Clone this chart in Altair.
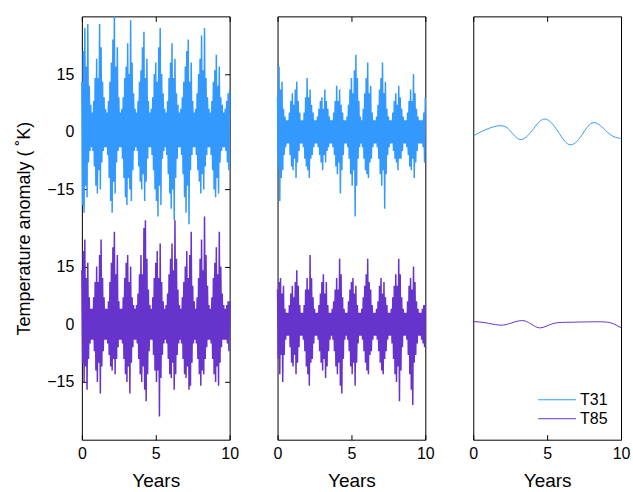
import altair as alt
import pandas as pd

# ---- time grid (years): envelope samples every 0.1 yr, troughs in between
T_HI = [round(i * 0.1, 2) for i in range(101)]
T_LO = [round(i * 0.1 + 0.05, 2) for i in range(100)]

SERIES = ["T31", "T85"]
COLORS = ["#3399ff", "#6633cc"]
OFFSET = {"T31": 50, "T85": 0}   # vertical display offset of the two curves

# ---- panel 1 (raw daily anomalies), upper / lower excursions
p1_t31_hi = [13, 21, 27, 17, 28, 12, 7, 5, 8, 14,
             19, 14, 28, 22, 13, 9, 6, 5, 8, 13,
             18, 24, 30, 17, 22, 9, 5, 6, 9, 14,
             17, 23, 15, 29, 18, 10, 6, 5, 8, 13,
             16, 22, 26, 14, 19, 8, 5, 6, 9, 15,
             18, 13, 22, 27, 15, 10, 6, 5, 8, 14,
             18, 23, 14, 19, 10, 7, 5, 6, 9, 13,
             17, 21, 24, 13, 18, 8, 5, 6, 10, 15,
             19, 25, 16, 27, 14, 9, 6, 5, 8, 13,
             16, 20, 12, 17, 9, 7, 5, 6, 8, 10,
             11]
p1_t31_lo = [-19, -21, -14, -17, -8, -5, -4, -5, -9, -14,
             -16, -10, -15, -8, -5, -4, -4, -6, -12, -18,
             -21, -13, -16, -8, -5, -4, -4, -7, -12, -17,
             -19, -12, -15, -18, -10, -5, -4, -5, -9, -13,
             -15, -11, -18, -13, -7, -4, -4, -6, -10, -15,
             -18, -22, -14, -19, -7, -5, -4, -6, -11, -16,
             -20, -15, -23, -12, -7, -4, -4, -6, -11, -17,
             -21, -14, -24, -10, -6, -4, -4, -6, -10, -13,
             -16, -11, -15, -9, -6, -4, -4, -6, -10, -15,
             -17, -12, -16, -8, -5, -4, -4, -5, -8, -10]
p1_t85_hi = [14, 19, 22, 12, 16, 7, 4, 4, 7, 11,
             15, 11, 18, 22, 12, 7, 4, 4, 6, 11,
             16, 20, 24, 13, 18, 6, 4, 4, 7, 12,
             16, 18, 11, 15, 7, 5, 4, 5, 8, 13,
             18, 13, 25, 27, 17, 9, 5, 4, 7, 12,
             16, 19, 12, 21, 11, 6, 4, 5, 8, 13,
             17, 21, 14, 27, 17, 9, 5, 4, 7, 11,
             15, 19, 12, 18, 24, 10, 6, 4, 7, 12,
             17, 22, 14, 28, 18, 10, 5, 4, 7, 12,
             16, 20, 13, 24, 15, 8, 5, 4, 5, 6,
             6]
p1_t85_lo = [-10, -15, -11, -17, -9, -5, -4, -4, -7, -12,
             -15, -10, -18, -11, -7, -4, -4, -5, -8, -11,
             -12, -9, -13, -9, -6, -4, -4, -5, -9, -13,
             -15, -11, -18, -10, -6, -4, -4, -5, -9, -13,
             -15, -11, -17, -20, -13, -7, -4, -4, -8, -12,
             -15, -12, -24, -14, -8, -5, -4, -5, -9, -13,
             -14, -10, -17, -13, -8, -5, -4, -5, -9, -13,
             -14, -11, -17, -16, -10, -5, -4, -5, -9, -13,
             -16, -12, -13, -9, -6, -4, -4, -5, -9, -13,
             -15, -11, -16, -10, -6, -4, -4, -4, -5, -7]

# ---- panel 2 (filtered anomalies)
p2_t31_hi = [9, 17, 11, 13, 6, 4, 3, 3, 5, 8,
             10, 7, 11, 13, 8, 5, 3, 3, 5, 9,
             14, 9, 11, 7, 5, 3, 3, 4, 6, 8,
             9, 6, 11, 8, 6, 4, 3, 3, 5, 8,
             12, 8, 11, 7, 5, 3, 3, 4, 7, 11,
             14, 10, 16, 20, 14, 8, 4, 3, 6, 10,
             14, 18, 10, 12, 5, 3, 3, 4, 7, 11,
             14, 18, 10, 13, 6, 4, 3, 3, 5, 8,
             10, 7, 12, 9, 6, 4, 3, 3, 5, 8,
             11, 8, 15, 10, 6, 4, 3, 3, 3, 5,
             9]
p2_t31_lo = [-9, -18, -12, -10, -6, -4, -3, -3, -6, -9,
             -10, -7, -12, -8, -5, -3, -3, -4, -7, -9,
             -10, -12, -7, -6, -4, -3, -3, -4, -6, -8,
             -10, -6, -8, -5, -4, -3, -3, -4, -6, -9,
             -11, -8, -16, -10, -6, -3, -3, -4, -7, -11,
             -14, -10, -22, -14, -7, -4, -3, -4, -7, -10,
             -11, -12, -8, -7, -4, -3, -3, -4, -7, -11,
             -14, -10, -20, -11, -6, -4, -3, -3, -5, -7,
             -8, -10, -7, -7, -5, -3, -3, -4, -6, -9,
             -10, -7, -12, -8, -5, -3, -3, -3, -4, -8]
p2_t85_hi = [9, 11, 12, 8, 10, 4, 3, 3, 5, 8,
             10, 7, 11, 14, 10, 5, 3, 3, 5, 9,
             12, 9, 18, 12, 7, 4, 3, 3, 5, 8,
             11, 13, 8, 11, 5, 3, 3, 4, 6, 9,
             12, 9, 17, 13, 7, 4, 3, 3, 6, 9,
             11, 12, 8, 10, 5, 3, 3, 4, 7, 10,
             13, 17, 11, 9, 5, 3, 3, 4, 6, 10,
             12, 8, 11, 7, 5, 3, 3, 4, 7, 10,
             13, 10, 17, 13, 7, 4, 3, 3, 6, 10,
             12, 9, 15, 11, 6, 4, 3, 3, 4, 5,
             5]
p2_t85_lo = [-9, -13, -8, -15, -8, -4, -3, -3, -6, -10,
             -11, -8, -13, -10, -6, -3, -3, -4, -7, -11,
             -13, -16, -10, -9, -5, -3, -3, -4, -7, -10,
             -12, -9, -14, -11, -7, -4, -3, -4, -7, -11,
             -13, -10, -16, -18, -9, -4, -3, -4, -7, -11,
             -13, -10, -16, -10, -5, -3, -3, -4, -7, -10,
             -12, -13, -8, -7, -4, -3, -3, -4, -7, -10,
             -12, -13, -9, -7, -4, -3, -3, -5, -9, -13,
             -15, -11, -20, -12, -6, -3, -3, -4, -8, -13,
             -17, -21, -10, -8, -5, -3, -3, -4, -5, -6]

# ---- panel 3 (low-frequency component)
p3_t31_t = [0, 0.8, 1.82, 2.5, 3.18, 3.98, 4.77, 5.61, 6.48, 7.34, 8.18, 9.2, 10]
p3_t31_v = [-1.1, 0.5, 1.6, 0.3, -2.0, 0.3, 3.3, 0.8, -3.3, -0.9, 2.4, -0.5, -1.7]
p3_t85_t = [0, 0.8, 1.7, 2.4, 3.25, 3.9, 4.54, 5.34, 6.25, 7.6, 8.86, 9.5, 10]
p3_t85_v = [0.7, 0.4, -0.2, 0.1, 0.95, 0.1, -0.95, 0.1, 0.5, 0.6, 0.6, 0.1, -0.9]


def noisy_frame(hi31, lo31, hi85, lo85):
    rows = []
    for name, hi, lo in (("T31", hi31, lo31), ("T85", hi85, lo85)):
        for t, v in zip(T_HI, hi):
            rows.append({"t": t, "v": v + OFFSET[name], "series": name})
        for t, v in zip(T_LO, lo):
            rows.append({"t": t, "v": v + OFFSET[name], "series": name})
    return pd.DataFrame(rows)


def smooth_frame():
    rows = []
    for name, ts, vs in (("T31", p3_t31_t, p3_t31_v), ("T85", p3_t85_t, p3_t85_v)):
        for t, v in zip(ts, vs):
            rows.append({"t": t, "v": v + OFFSET[name], "series": name})
    return pd.DataFrame(rows)


FONT = "Liberation Sans"
xs = alt.Scale(domain=[0, 10], nice=False, zero=False)
ys = alt.Scale(domain=[-30, 80], nice=False, zero=False)
cs = alt.Scale(domain=SERIES, range=COLORS)

TICK = 5


def panel(df, show_y, legend, interp, sw):
    xaxis = alt.Axis(orient="bottom", values=[0, 5, 10], offset=-TICK, tickSize=TICK,
                     domain=False, grid=False, labelPadding=6, labelFlush=False,
                     labelOverlap=False, title="Years",
                     titlePadding=10, labelFontSize=16, titleFontSize=19,
                     titleFontWeight="normal", labelColor="black", titleColor="black",
                     tickColor="black", labelFont=FONT, titleFont=FONT, format="d")
    xtop = alt.Axis(orient="top", values=[0, 5, 10], offset=-TICK, tickSize=TICK,
                    domain=False, grid=False, labels=False, title=None, tickColor="black")
    if show_y:
        yaxis = alt.Axis(orient="left", values=[-15, 0, 15, 35, 50, 65], offset=-TICK,
                         tickSize=TICK, domain=False, grid=False, labelPadding=8,
                         labelFlush=False, labelOverlap=False,
                         labelExpr="datum.value > 25 ? format(datum.value - 50, 'd') : format(datum.value, 'd')",
                         title="Temperature anomaly ( ˚K)", titlePadding=13,
                         labelFontSize=16, titleFontSize=18, titleFontWeight="normal",
                         labelColor="black", titleColor="black", tickColor="black",
                         labelFont=FONT, titleFont=FONT)
        yright = alt.Axis(orient="right", values=[-15, 0, 15, 35, 50, 65], offset=-TICK,
                          tickSize=TICK, domain=False, grid=False, labels=False,
                          title=None, tickColor="black")
    else:
        yaxis = None
        yright = None

    base = alt.Chart(df)
    lines = base.mark_line(strokeWidth=sw, interpolate=interp).encode(
        x=alt.X("t:Q", scale=xs, axis=xaxis),
        y=alt.Y("v:Q", scale=ys, axis=yaxis),
        color=alt.Color("series:N", scale=cs, legend=legend),
    )
    mirror = base.mark_line(opacity=0).encode(
        x=alt.X("t:Q", scale=xs, axis=xtop),
        y=alt.Y("v:Q", scale=ys, axis=yright),
    )
    return alt.layer(lines, mirror).resolve_axis(x="independent", y="independent").properties(
        width=148, height=424)


legend3 = alt.Legend(orient="bottom-right", title=None, symbolType="M-3,0H3",
                     symbolSize=160, symbolStrokeWidth=1, labelFontSize=16,
                     labelFont=FONT, labelColor="black", offset=13, rowPadding=3,
                     labelOffset=15)

p1 = panel(noisy_frame(p1_t31_hi, p1_t31_lo, p1_t85_hi, p1_t85_lo), True, None, "linear", 1.5)
p2 = panel(noisy_frame(p2_t31_hi, p2_t31_lo, p2_t85_hi, p2_t85_lo), False, None, "linear", 1.5)
p3 = panel(smooth_frame(), False, legend3, "natural", 1)

chart = alt.hconcat(p1, p2, p3, spacing=48, bounds="flush").resolve_legend(
    color="independent"
).configure(
    font=FONT, background="white",
    padding={"left": 15, "top": 12, "right": 2, "bottom": 0},
).configure_view(stroke="black", strokeWidth=1)

chart.save("out.html", embed_options={"renderer": "svg", "actions": False})
